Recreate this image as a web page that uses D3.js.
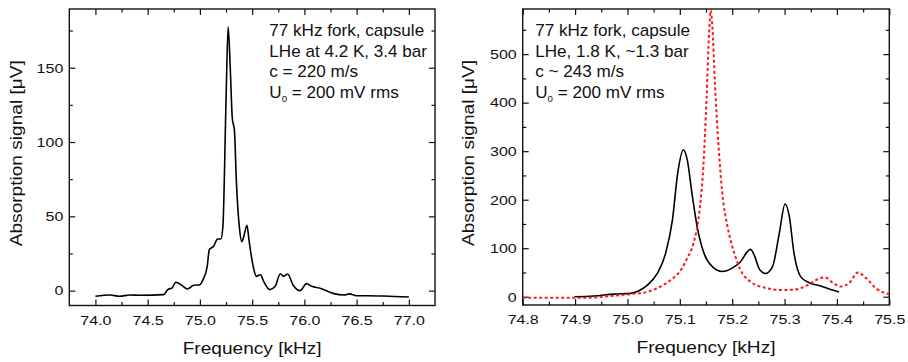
<!DOCTYPE html>
<html>
<head>
<meta charset="utf-8">
<script src="https://d3js.org/d3.v7.min.js"></script>
<style>
  html, body { margin: 0; padding: 0; background: #fff; }
  svg { display: block; font-family: "Liberation Sans", Arial, sans-serif; }
</style>
</head>
<body>
<svg id="chart" width="908" height="362"></svg>
<script>
// ---- data ----
// left panel: 4.2 K, 3.4 bar sweep
const leftFreq = [74.00, 74.14, 74.23, 74.33, 74.43, 74.65, 74.70, 74.73, 74.77, 74.83,
  74.88, 74.94, 75.00, 75.03, 75.07, 75.09, 75.13, 75.17, 75.20, 75.22,
  75.25, 75.27, 75.29, 75.31, 75.33, 75.35, 75.38, 75.40, 75.42, 75.45,
  75.47, 75.51, 75.54, 75.58, 75.61, 75.67, 75.72, 75.77, 75.80, 75.84,
  75.89, 75.96, 76.02, 76.07, 76.15, 76.28, 76.38, 76.43, 76.50, 76.60,
  76.76, 77.00];
const leftSignal = [-3.8, -2.9, -3.8, -2.9, -3.1, -2.7, 1.1, 1.6, 5.6, 3.4,
  1.1, 3.6, 4.0, 7.4, 16.3, 27.5, 29.8, 34.7, 34.7, 43,
  128, 177.5, 150.7, 116, 108, 72, 41, 33, 36.5, 44,
  34, 16.3, 9.6, 10.7, 6.3, 0.7, 2.9, 11.4, 9.6, 11.2,
  4.0, 0, 4.7, 2.9, 1.6, -2.0, -2.9, -2.2, -3.4, -3.4,
  -3.6, -4.3];

// right panel: 1.8 K, ~1.3 bar, measured (black)
const rightFreq = [74.899, 74.936, 74.974, 75.006, 75.022, 75.038, 75.057, 75.073, 75.086, 75.096,
  75.107, 75.114, 75.124, 75.133, 75.146, 75.162, 75.181, 75.200, 75.216, 75.229,
  75.235, 75.242, 75.253, 75.264, 75.277, 75.290, 75.301, 75.309, 75.318, 75.331,
  75.347, 75.369, 75.388, 75.404];
const rightSignal = [0, 1.4, 5.5, 6.9, 12.4, 24, 48, 90, 159, 255,
  303, 283, 207, 145, 90, 62, 52, 59, 72, 93,
  98, 86, 55, 48, 62, 131, 191, 166, 90, 41,
  29, 22, 15, 9.7];

// right panel: red dotted curve
const redFreq = [74.800, 74.859, 74.923, 74.968, 75.006, 75.038, 75.063, 75.082, 75.102, 75.114,
  75.126, 75.137, 75.145, 75.151, 75.156, 75.159, 75.162, 75.167, 75.174, 75.181,
  75.191, 75.204, 75.216, 75.235, 75.261, 75.293, 75.318, 75.344, 75.363, 75.377,
  75.392, 75.408, 75.424, 75.440, 75.456, 75.475, 75.500];
const redSignal = [-2, -2, -2, 1.4, 5.5, 10, 21, 34, 55, 79,
  110, 172, 269, 407, 545, 590, 559, 441, 310, 214,
  145, 90, 55, 31, 19, 14, 14.5, 24, 36, 40,
  29, 21, 29, 50, 38, 17, 5];

// ticks
const leftXTicks = [74.0, 74.5, 75.0, 75.5, 76.0, 76.5, 77.0];
const leftXMinor = [74.25, 74.75, 75.25, 75.75, 76.25, 76.75];
const leftYTicks = [0, 50, 100, 150];
const leftYMinor = [25, 75, 125, 175];
const rightXTicks = [74.8, 74.9, 75.0, 75.1, 75.2, 75.3, 75.4, 75.5];
const rightXMinor = [74.85, 74.95, 75.05, 75.15, 75.25, 75.35, 75.45];
const rightYTicks = [0, 100, 200, 300, 400, 500];
const rightYMinor = [50, 150, 250, 350, 450, 550];

const leftNotes = ["77 kHz fork, capsule", "LHe at 4.2 K, 3.4 bar", "c = 220 m/s"];
const rightNotes = ["77 kHz fork, capsule", "LHe, 1.8 K, ~1.3 bar", "c ~ 243 m/s"];

const svg = d3.select('#chart');

// the reference type is a little wider than Liberation Sans: measure and stretch
function measure(str, size) {
    const t = svg.append('text').attr('font-size', size + 'px').text(str);
    const w = t.node().getComputedTextLength();
    t.remove();
    return w;
}
const TICK_FS = 13.5, NOTE_FS = 15.8, TITLE_FS = 17.2;
const kTick = 26.7 / measure('150', TICK_FS);
const kNote = 155 / measure('77 kHz fork, capsule', NOTE_FS);

function drawPanel(opt) {
    const { left, top, width, height } = opt;
    const g = svg.append('g').attr('transform', `translate(${left},${top})`);

    const x = d3.scaleLinear().domain(opt.xDomain).range([0, width]);
    const y = d3.scaleLinear().domain(opt.yDomain).range([height, 0]);

    const clipId = 'clip-' + opt.id;
    g.append('clipPath').attr('id', clipId)
        .append('rect').attr('width', width).attr('height', height);

    // inward ticks on all four sides
    const axes = [
        { ax: d3.axisBottom(x).tickValues(opt.xTicks).tickFormat(d3.format('.1f')).tickSizeInner(-6), t: `translate(0,${height})`, side: 'bottom' },
        { ax: d3.axisBottom(x).tickValues(opt.xMinor).tickFormat('').tickSizeInner(-3.5), t: `translate(0,${height})` },
        { ax: d3.axisTop(x).tickValues(opt.xTicks).tickFormat('').tickSizeInner(-6), t: 'translate(0,0)' },
        { ax: d3.axisTop(x).tickValues(opt.xMinor).tickFormat('').tickSizeInner(-3.5), t: 'translate(0,0)' },
        { ax: d3.axisLeft(y).tickValues(opt.yTicks).tickFormat(d3.format('d')).tickSizeInner(-6), t: 'translate(0,0)', side: 'left' },
        { ax: d3.axisLeft(y).tickValues(opt.yMinor).tickFormat('').tickSizeInner(-3.5), t: 'translate(0,0)' },
        { ax: d3.axisRight(y).tickValues(opt.yTicks).tickFormat('').tickSizeInner(-6), t: `translate(${width},0)` },
        { ax: d3.axisRight(y).tickValues(opt.yMinor).tickFormat('').tickSizeInner(-3.5), t: `translate(${width},0)` }
    ];
    axes.forEach(a => {
        const ag = g.append('g').attr('transform', a.t).call(a.ax.tickSizeOuter(0));
        ag.select('.domain').remove();
        ag.attr('font-family', null);
        ag.selectAll('line').attr('stroke', '#111').attr('stroke-width', 1.2);
        const txt = ag.selectAll('text')
            .attr('font-size', TICK_FS + 'px')
            .attr('fill', '#111');
        if (a.side === 'bottom') {
            txt.attr('y', 19.5).attr('dy', null).attr('transform', `scale(${kTick},1)`);
        } else if (a.side === 'left') {
            txt.attr('x', -6 / kTick).attr('transform', `scale(${kTick},1)`);
        }
    });

    // frame
    g.append('rect')
        .attr('width', width).attr('height', height)
        .attr('fill', 'none').attr('stroke', '#111').attr('stroke-width', 1.4);

    const line = d3.line()
        .x(d => x(d[0]))
        .y(d => y(d[1]))
        .curve(d3.curveMonotoneX);

    opt.series.forEach(s => {
        g.append('path')
            .datum(d3.zip(s.freq, s.signal))
            .attr('clip-path', `url(#${clipId})`)
            .attr('d', line)
            .attr('fill', 'none')
            .attr('stroke', s.color)
            .attr('stroke-width', s.width)
            .attr('stroke-dasharray', s.dash || null)
            .attr('stroke-linejoin', 'round');
    });

    // annotation
    const notes = g.append('g')
        .attr('transform', `translate(${opt.noteX},0) scale(${kNote},1)`)
        .attr('font-size', NOTE_FS + 'px')
        .attr('fill', '#111');
    opt.notes.forEach((n, i) => {
        notes.append('text').attr('x', 0).attr('y', 26.7 + i * 20.9).text(n);
    });
    const u = notes.append('text').attr('x', 0).attr('y', 26.7 + 3 * 20.9);
    u.append('tspan').text('U');
    u.append('tspan').attr('font-size', '9px').attr('dy', 4).text('0');
    u.append('tspan').attr('dy', -4).text(' = 200 mV rms');

    // axis titles
    g.append('text')
        .attr('transform', `translate(${opt.yTitleX},${height / 2 - 4}) rotate(-90)`)
        .attr('text-anchor', 'middle')
        .attr('font-size', TITLE_FS + 'px')
        .attr('textLength', 186)
        .attr('lengthAdjust', 'spacingAndGlyphs')
        .attr('fill', '#111')
        .text('Absorption signal [μV]');
    g.append('text')
        .attr('x', width / 2)
        .attr('y', height + 48)
        .attr('text-anchor', 'middle')
        .attr('font-size', TITLE_FS + 'px')
        .attr('textLength', 139)
        .attr('lengthAdjust', 'spacingAndGlyphs')
        .attr('fill', '#111')
        .text('Frequency [kHz]');
}

drawPanel({
    id: 'left', left: 69.3, top: 9, width: 365.7, height: 296.5,
    xDomain: [73.75, 77.25], yDomain: [-10, 189.5],
    xTicks: leftXTicks, xMinor: leftXMinor, yTicks: leftYTicks, yMinor: leftYMinor,
    series: [{ freq: leftFreq, signal: leftSignal, color: '#000', width: 1.6 }],
    notes: leftNotes, noteX: 200, yTitleX: -47.5
});

drawPanel({
    id: 'right', left: 522.7, top: 9, width: 366.6, height: 296,
    xDomain: [74.8, 75.5], yDomain: [-17, 593],
    xTicks: rightXTicks, xMinor: rightXMinor, yTicks: rightYTicks, yMinor: rightYMinor,
    series: [
        { freq: rightFreq, signal: rightSignal, color: '#000', width: 1.6 },
        { freq: redFreq, signal: redSignal, color: '#ff1a1a', width: 2, dash: '3,2.5' }
    ],
    notes: rightNotes, noteX: 12.5, yTitleX: -49
});
</script>
</body>
</html>
